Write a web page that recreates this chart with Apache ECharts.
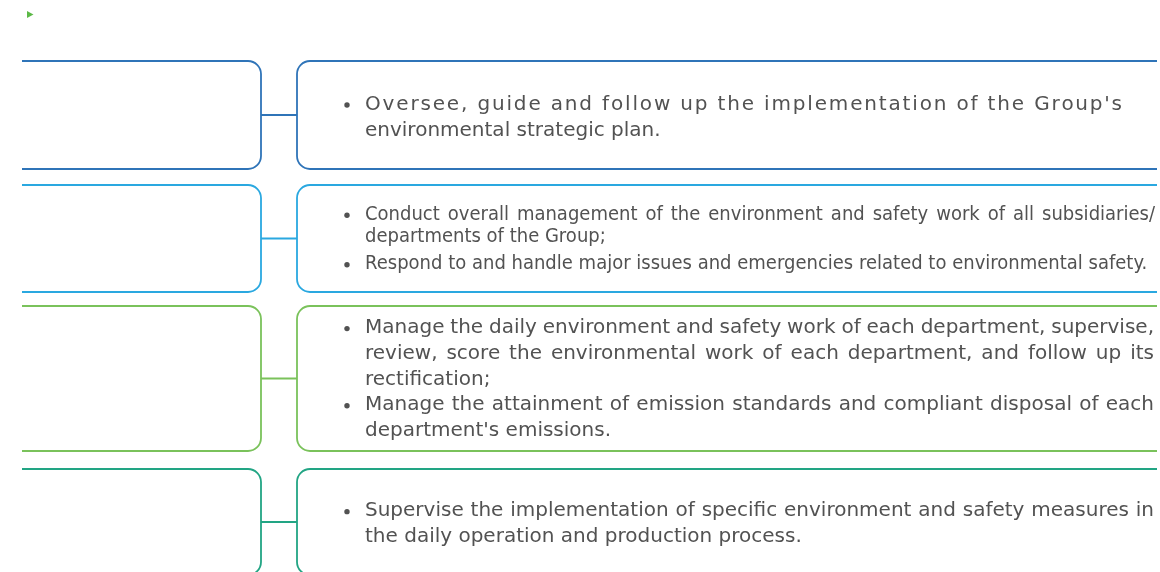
<!DOCTYPE html>
<html>
<head>
<meta charset="utf-8">
<script src="https://cdn.jsdelivr.net/npm/echarts@6/dist/echarts.min.js"></script>
<style>
  html, body { margin: 0; padding: 0; background: #fff; }
  #main { width: 1160px; height: 572px; }
</style>
</head>
<body>
<div id="main"></div>
<script>
// 每层颜色
const rowColors = ['#2f74b8', '#2aa8e0', '#7ac25b', '#22a584'];
// 每层职责：每个 bullet 按原图断行
const rowBullets = [
  [["Oversee, guide and follow up the implementation of the Group's", 'environmental strategic plan.']],
  [['Conduct overall management of the environment and safety work of all subsidiaries/', 'departments of the Group;'],
   ['Respond to and handle major issues and emergencies related to environmental safety.']],
  [['Manage the daily environment and safety work of each department, supervise,',
    'review, score the environmental work of each department, and follow up its',
    'rectification;'],
   ['Manage the attainment of emission standards and compliant disposal of each', "department's emissions."]],
  [['Supervise the implementation of specific environment and safety measures in',
    'the daily operation and production process.']]
];
// 两端对齐方式：letter--字距撑满，word--词距撑满
const rowJustify = ['letter', 'word', 'word', 'word'];

// 版式
const rowTop = [61, 185, 306, 469];
const rowBottom = [169, 292, 451, 575];
const rowLineH = [26, 22.5, 25.7, 25.7];
const rowBulletGap = [0, 4.5, 0, 0];
const rowTextShift = [2.5, 1, 1, 2];
const rowTextRight = [1122, 1155, 1154, 1154];
const rowFontScale = [1, 0.9, 1, 1];     // 第二层字体偏窄
const LEFT_X0 = 22, LEFT_X1 = 261, RIGHT_X0 = 297, RIGHT_X1 = 1157, R = 13;
const BULLET_X = 347, TEXT_X = 365;
const FONT = '20px "DejaVu Sans"';
const TEXT_COLOR = '#525252';

const ctx = document.createElement('canvas').getContext('2d');
ctx.font = FONT;
const measure = s => ctx.measureText(s).width;

// 展开成行
const lines = [];
rowBullets.forEach((bullets, r) => {
  let n = 0;
  bullets.forEach(b => n += b.length);
  const total = (n - 1) * rowLineH[r] + (bullets.length - 1) * rowBulletGap[r];
  let y = (rowTop[r] + rowBottom[r]) / 2 + rowTextShift[r] - total / 2;
  bullets.forEach(b => {
    b.forEach((t, i) => {
      lines.push({ row: r, text: t, y: y, first: i === 0, justify: i < b.length - 1 });
      y += rowLineH[r];
    });
    y += rowBulletGap[r];
  });
});

function renderBox(params, api) {
  const r = api.value(0);
  const t = api.coord([0, rowTop[r]])[1];
  const b = api.coord([0, rowBottom[r]])[1];
  const c = (t + b) / 2;
  const a0 = api.coord([LEFT_X0, 0])[0], a1 = api.coord([LEFT_X1, 0])[0];
  const b0 = api.coord([RIGHT_X0, 0])[0], b1 = api.coord([RIGHT_X1, 0])[0];
  const d =
    `M${a0} ${t}L${a1 - R} ${t}A${R} ${R} 0 0 1 ${a1} ${t + R}L${a1} ${b - R}A${R} ${R} 0 0 1 ${a1 - R} ${b}L${a0} ${b}` +
    `M${b1} ${t}L${b0 + R} ${t}A${R} ${R} 0 0 0 ${b0} ${t + R}L${b0} ${b - R}A${R} ${R} 0 0 0 ${b0 + R} ${b}L${b1} ${b}` +
    `M${a1} ${c}L${b0} ${c}`;
  return {
    type: 'path',
    shape: { pathData: d },
    style: { fill: 'none', stroke: rowColors[r], lineWidth: 1.8 }
  };
}

function renderLine(params, api) {
  const l = lines[api.value(0)];
  const sc = rowFontScale[l.row];
  const p0 = api.coord([TEXT_X, l.y]);
  const p1 = api.coord([rowTextRight[l.row], l.y]);
  const avail = p1[0] - p0[0];
  const pieces = [];
  if (l.justify && rowJustify[l.row] === 'letter') {
    const chars = l.text.split('');
    const sp = (avail - measure(l.text) * sc) / (chars.length - 1);
    chars.forEach((ch, i) => pieces.push([ch, p0[0] + measure(l.text.slice(0, i)) * sc + i * sp]));
  } else if (l.justify) {
    const words = l.text.split(' ');
    const w = words.map(s => measure(s) * sc);
    const gap = (avail - w.reduce((a, b) => a + b, 0)) / (words.length - 1);
    let x = p0[0];
    words.forEach((s, i) => { pieces.push([s, x]); x += w[i] + gap; });
  } else {
    pieces.push([l.text, p0[0]]);
  }
  const children = pieces.map(p => ({
    type: 'text',
    x: p[1],
    y: p0[1],
    scaleX: sc,
    style: { text: p[0], font: FONT, fill: TEXT_COLOR, align: 'left', verticalAlign: 'middle' }
  }));
  if (l.first) {
    children.push({
      type: 'circle',
      shape: { cx: api.coord([BULLET_X, 0])[0], cy: p0[1] + 0.5, r: 2.7 },
      style: { fill: TEXT_COLOR }
    });
  }
  return { type: 'group', children: children };
}

const chart = echarts.init(document.getElementById('main'), null, { renderer: 'canvas' });
const option = {
  animation: false,
  backgroundColor: '#fff',
  grid: { left: 0, right: 0, top: 0, bottom: 0 },
  xAxis: { type: 'value', min: 0, max: 1160, show: false },
  yAxis: { type: 'value', min: 0, max: 572, inverse: true, show: false },
  graphic: [{
    type: 'polygon',
    shape: { points: [[27, 11], [27, 18], [33.5, 14.5]] },
    style: { fill: '#5cb947' }
  }],
  series: [
    {
      type: 'custom',
      silent: true,
      renderItem: renderBox,
      data: rowColors.map((c, i) => [i, 0])
    },
    {
      type: 'custom',
      silent: true,
      renderItem: renderLine,
      data: lines.map((l, i) => [i, 0])
    }
  ]
};
chart.setOption(option);
</script>
</body>
</html>
